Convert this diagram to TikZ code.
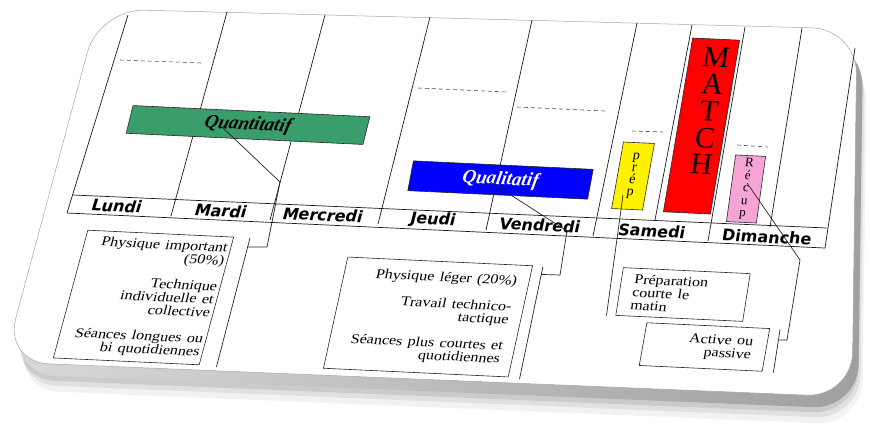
\documentclass[tikz,border=0pt]{standalone}
\usepackage{fontspec}
\setmainfont{Liberation Serif}
\newfontfamily\dayfont{DejaVu Sans}
\usetikzlibrary{calc}

\definecolor{quantigreen}{RGB}{58,158,108}
\definecolor{recuppink}{RGB}{246,164,214}
\newcommand\cardshape{(480,19) -- (857,29) -- (852,397) -- (4,362) -- (99,9) -- cycle}

\begin{document}
\begin{tikzpicture}[x=1pt, y=-1pt,
    slanted/.style={rotate=-2.7, xslant=#1},
    loadbar/.style={draw=black!85, line width=0.6pt, slanted=#1, inner sep=0pt},
    bartitle/.style={font=\bfseries\itshape\fontsize{19}{19}\selectfont},
    notebox/.style={draw=black!85, line width=0.6pt, slanted=#1, yscale=0.85, inner ysep=0pt,
      font=\fontsize{16}{15.5}\selectfont},
    daylabel/.style={slanted=#1, inner sep=0pt,
      font=\dayfont\bfseries\fontsize{16}{16}\selectfont},
    letterstack/.style={slanted=#1, inner sep=0pt, align=center},
    levelmark/.style={dash pattern=on 4pt off 3pt, line width=0.6pt, black!70},
    gridline/.style={line width=0.7pt, black!90},
    linkline/.style={line width=0.7pt, black!85},
    card/.style={rounded corners=45pt}]
    \useasboundingbox (0,0) rectangle (870,424);
    \fill[white] (0,0) rectangle (870,424);

    % card with its rim and shadow
    \foreach \sx/\sy/\op in {10/28/0.05, 8/22/0.07, 6/17/0.09}
      \fill[black, opacity=\op, card, shift={(\sx,\sy)}] \cardshape;
    \shade[card, left color=gray!30, right color=gray!75, shift={(6,12)}] \cardshape;
    \filldraw[card, fill=white, draw=gray!70, line width=0.5pt] \cardshape;

    % week grid
    \foreach \xt/\yt/\xb/\yb in {128/15/67/213, 227/12/171/216, 325/15/270/220,
        430/17/378/224, 532/20/486/230, 637/23/593/236, 745/27/708/241,
        855/48/825/248, 692/25/655/220, 802/28/770/227}
      \draw[gridline] (\xt,\yt) -- (\xb,\yb);
    \draw[gridline] (73,195) -- (827,228);
    \draw[gridline] (67,213) -- (825,248);

    \node[daylabel=0.25] (lundi) at (117,206) {Lundi};
    \node[daylabel=0.24] (mardi) at (221,211) {Mardi};
    \node[daylabel=0.22] (mercredi) at (323,215) {Mercredi};
    \node[daylabel=0.20] (jeudi) at (433,220) {Jeudi};
    \node[daylabel=0.17] (vendredi) at (540,225) {Vendredi};
    \node[daylabel=0.15] (samedi) at (652,231) {Samedi};
    \node[daylabel=0.11] (dimanche) at (767,237) {Dimanche};

    % load levels
    \draw[levelmark] (120,60) -- (202,63);
    \draw[levelmark] (418,88) -- (507,92);
    \draw[levelmark] (517,107) -- (605,111);
    \draw[levelmark] (632,131) -- (663,132);
    \draw[levelmark] (737,145) -- (768,147);

    % bars
    \node[loadbar=0.20, fill=quantigreen, minimum width=237pt, minimum height=28pt,
      bartitle] (quanti) at (248,125) {Quantitatif};
    \node[loadbar=0.14, fill=blue, minimum width=180pt, minimum height=30pt,
      bartitle, text=white] (quali) at (500.5,180) {Qualitatif};
    \node[loadbar=0.13, fill=yellow, minimum width=31pt, minimum height=67pt, align=center,
      font=\fontsize{14}{12}\selectfont] (prep) at (633,176) {p\\r\\é\\p};
    \node[loadbar=0.12, fill=red, minimum width=47pt, minimum height=175pt] (match) at (701.5,126) {};
    \node[letterstack=0.09, font=\fontsize{30}{27}\selectfont] (matchword) at (709,111) {M\\A\\T\\C\\H};
    \node[loadbar=0.09, fill=recuppink, minimum width=30pt, minimum height=67pt, align=center,
      font=\fontsize{13}{12.5}\selectfont] (recup) at (746,189) {R\\é\\c\\u\\p};

    % notes
    \node[notebox=0.22, minimum height=152pt, text width=140pt, inner xsep=3pt, align=right]
      (physA) at (143.5,297.5) {Physique important\\(50\%)\\[15.5pt]Technique\\individuelle et\\collective\\[15.5pt]Séances longues ou\\bi quotidiennes};
    \node[notebox=0.17, minimum height=132pt, text width=161pt, inner xsep=12pt, align=right]
      (physB) at (428,317) {Physique léger (20\%)\\[15.5pt]Travail technico-\\tactique\\[15.5pt]Séances plus courtes et\\quotidiennes};
    \node[notebox=0.11, minimum height=56.5pt, text width=101pt, inner xsep=13pt, align=left]
      (prepnote) at (683,294.5) {Préparation\\courte le\\matin};
    \node[notebox=0.13, minimum height=50.6pt, text width=95pt, inner xsep=14pt, align=right]
      (recupnote) at (704.5,347) {Active ou\\passive};

    % links
    \coordinate (brA1) at ($(physA.north east)+(16,1)$);
    \coordinate (brA2) at ($(physA.south east)+(17,2)$);
    \coordinate (quantibend) at (280,182);
    \coordinate (quantifoot) at (267,247);
    \draw[linkline] (brA1) -- (brA2);
    \draw[linkline] ($(quanti.center)+(-26,2)$) -- (quantibend) -- (quantifoot) -- ($(brA1)!0.07!(brA2)$);

    \coordinate (brB1) at ($(physB.north east)+(10,1)$);
    \coordinate (brB2) at ($(physB.south east)+(11,2)$);
    \coordinate (qualibend) at (567,231);
    \coordinate (qualifoot) at (560,275);
    \draw[linkline] (brB1) -- (brB2);
    \draw[linkline] ($(quali.center)+(-10,2)$) -- (qualibend) -- (qualifoot) -- ($(brB1)!0.07!(brB2)$);

    \draw[linkline] ($(prep.center)+(-10,19)$) -- ($(prepnote.south west)+(-9,0)$);

    \coordinate (brC1) at ($(recupnote.north east)+(10,1)$);
    \coordinate (brC2) at ($(recupnote.south east)+(11,1)$);
    \coordinate (recupbend) at (800,260);
    \coordinate (recupfoot) at (787,340);
    \draw[linkline] (brC1) -- (brC2);
    \draw[linkline] ($(recup.center)+(1,-6)$) -- (recupbend) -- (recupfoot) -- ($(brC1)!0.25!(brC2)$);
\end{tikzpicture}
\end{document}
